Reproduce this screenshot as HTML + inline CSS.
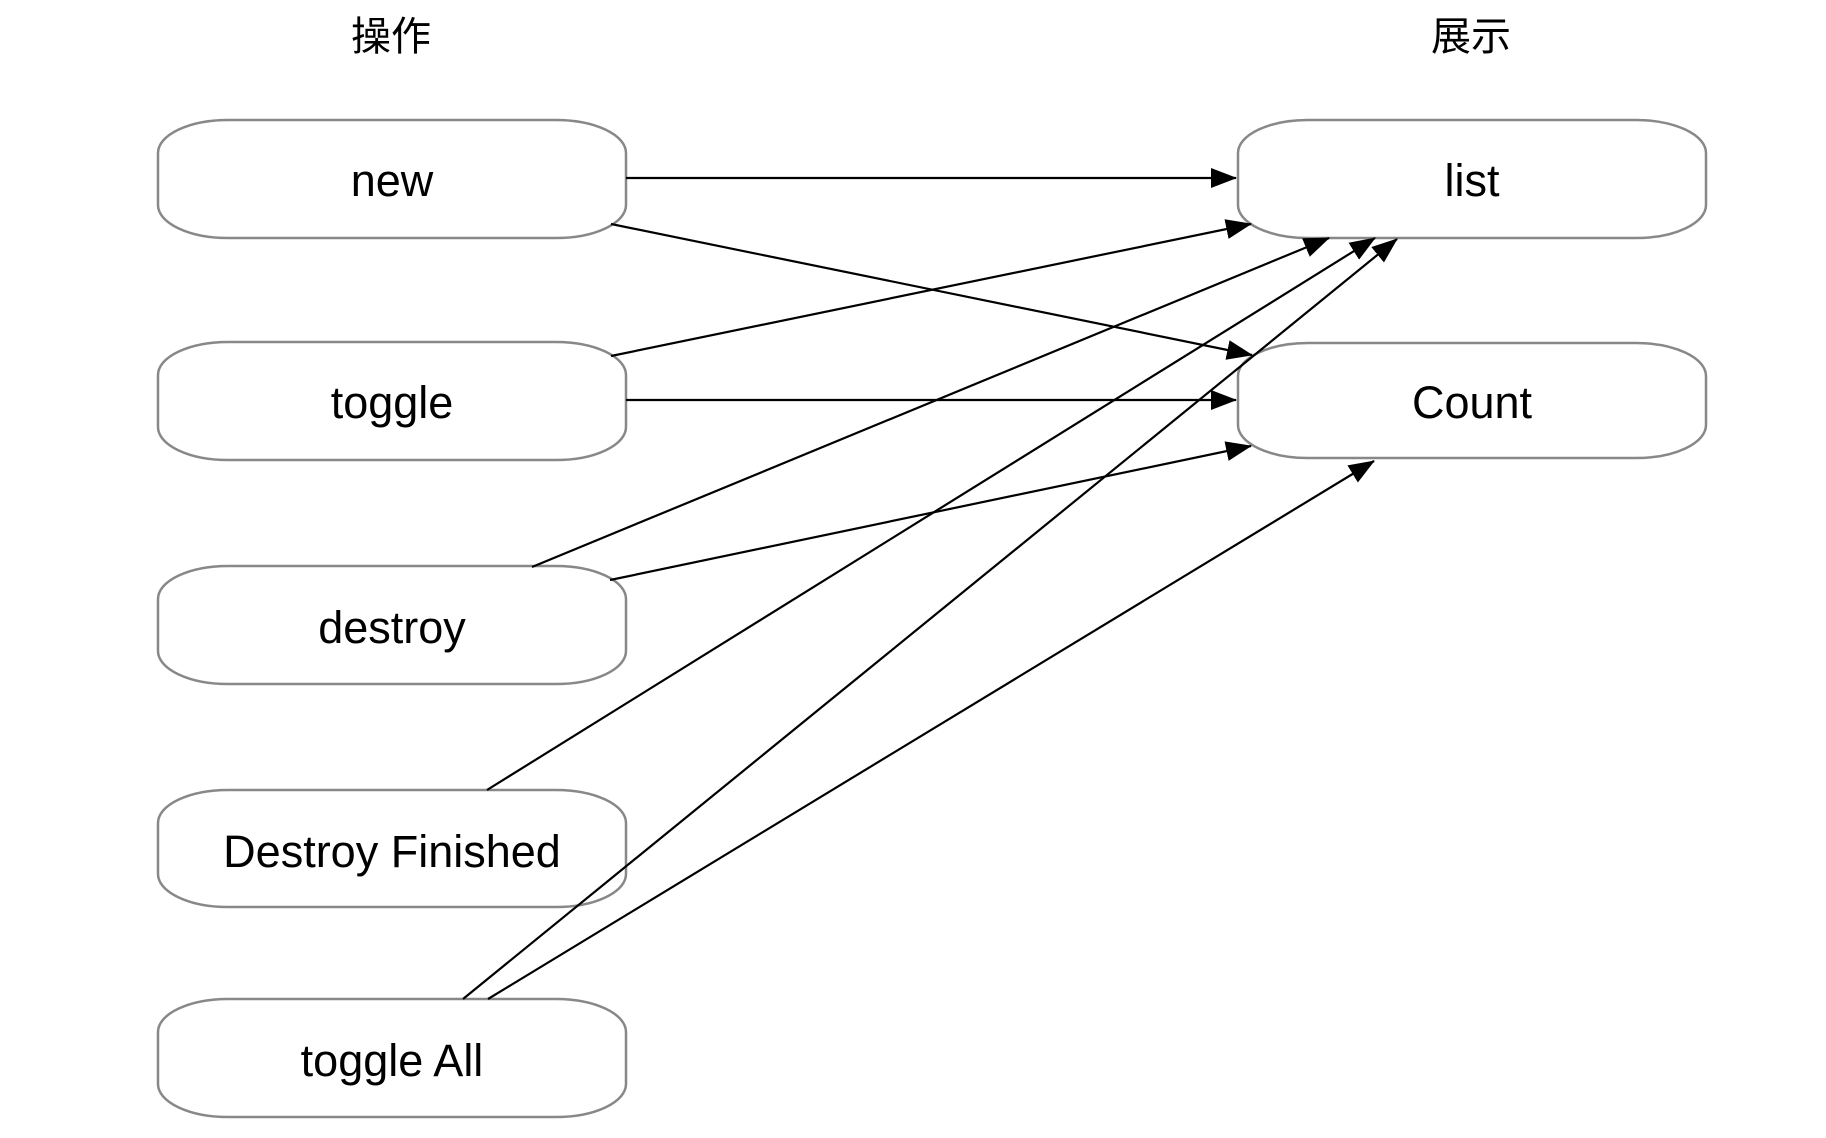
<!DOCTYPE html>
<html><head><meta charset="utf-8"><style>
html,body{margin:0;padding:0;background:#fff;}
svg{display:block;}
text{font-family:"Liberation Sans","Noto Sans CJK SC",sans-serif;fill:#000;}
</style></head><body>
<svg width="1826" height="1138" viewBox="0 0 1826 1138" xmlns="http://www.w3.org/2000/svg">
<defs>
<marker id="a" markerWidth="26" markerHeight="20" refX="25" refY="10" orient="auto" markerUnits="userSpaceOnUse">
<path d="M0,0 L26,10 L0,20 z" fill="#000"/>
</marker>
</defs>
<text x="391" y="50" font-size="40" text-anchor="middle">操作</text>
<text x="1471" y="50" font-size="40" text-anchor="middle">展示</text>
<g fill="#fff" stroke="#888" stroke-width="2.5">
<rect x="158" y="120" width="468" height="118" rx="70" ry="33"/>
<rect x="158" y="342" width="468" height="118" rx="70" ry="33"/>
<rect x="158" y="566" width="468" height="118" rx="70" ry="33"/>
<rect x="158" y="790" width="468" height="117" rx="70" ry="33"/>
<rect x="158" y="999" width="468" height="118" rx="70" ry="33"/>
<rect x="1238" y="120" width="468" height="118" rx="70" ry="33"/>
<rect x="1238" y="343" width="468" height="115" rx="70" ry="33"/>
</g>
<g font-size="45" text-anchor="middle">
<text x="392" y="196">new</text>
<text x="392" y="418">toggle</text>
<text x="392" y="643">destroy</text>
<text x="392" y="867">Destroy Finished</text>
<text x="392" y="1076">toggle All</text>
<text x="1472" y="196">list</text>
<text x="1472" y="418">Count</text>
</g>
<g stroke="#000" stroke-width="2.2" fill="none" marker-end="url(#a)">
<line x1="626" y1="178" x2="1236" y2="178"/>
<line x1="611" y1="224" x2="1252" y2="355"/>
<line x1="611" y1="356" x2="1251" y2="224"/>
<line x1="626" y1="400" x2="1236" y2="400"/>
<line x1="532" y1="567" x2="1329" y2="238"/>
<line x1="610" y1="580" x2="1251" y2="446"/>
<line x1="487" y1="790" x2="1375" y2="238"/>
<line x1="463" y1="999" x2="1397" y2="239"/>
<line x1="488" y1="999" x2="1374" y2="461"/>
</g>
</svg>
</body></html>
